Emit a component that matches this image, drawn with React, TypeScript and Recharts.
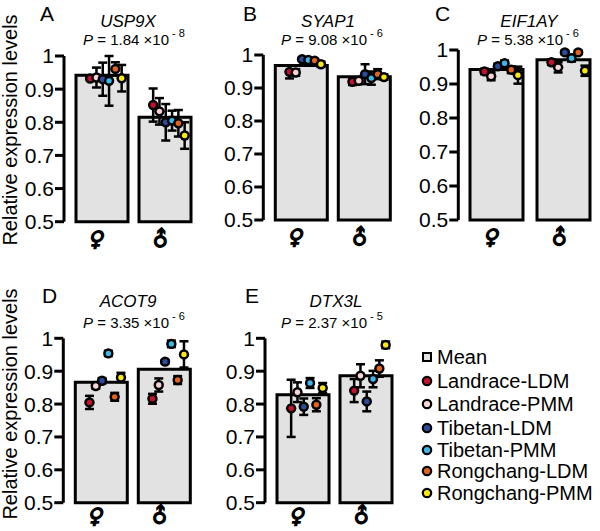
import React from 'react';
import { ComposedChart, Bar, Scatter, XAxis, YAxis, ErrorBar } from 'recharts';

// ---------- data ----------
const sexes = ['♀', '♂'];
const populations = ['Landrace-LDM', 'Landrace-PMM', 'Tibetan-LDM', 'Tibetan-PMM', 'Rongchang-LDM', 'Rongchang-PMM'];
const panelLetters = ['A', 'B', 'C', 'D', 'E'];
const genes = ['USP9X', 'SYAP1', 'EIF1AY', 'ACOT9', 'DTX3L'];
const pMantissa = ['1.84', '9.08', '5.38', '3.35', '2.37'];
const pExponent = ['-8', '-6', '-6', '-6', '-5'];
const yTicks = [0.5, 0.6, 0.7, 0.8, 0.9, 1];

const meanFemale = [0.942, 0.968, 0.943, 0.866, 0.828];
const meanMale = [0.815, 0.934, 0.971, 0.906, 0.886];

// per gene, per population (order of `populations`)
const femaleValues = [
  [0.932, 0.935, 0.930, 0.925, 0.961, 0.933],
  [0.949, 0.947, 0.987, 0.985, 0.983, 0.972],
  [0.937, 0.923, 0.952, 0.961, 0.942, 0.926],
  [0.805, 0.855, 0.871, 0.954, 0.822, 0.881],
  [0.787, 0.836, 0.792, 0.864, 0.798, 0.849],
];
const femaleErrors = [
  [0.005, 0.030, 0.050, 0.075, 0.020, 0.040],
  [0.020, 0.010, 0.005, 0.005, 0.005, 0.008],
  [0.008, 0.012, 0.008, 0.008, 0.010, 0.025],
  [0.020, 0.008, 0.008, 0.008, 0.012, 0.014],
  [0.087, 0.030, 0.025, 0.015, 0.020, 0.015],
];
const maleValues = [
  [0.852, 0.833, 0.800, 0.805, 0.797, 0.760],
  [0.919, 0.922, 0.942, 0.930, 0.942, 0.933],
  [0.964, 0.949, 0.993, 0.976, 0.993, 0.939],
  [0.816, 0.858, 0.929, 0.983, 0.873, 0.951],
  [0.841, 0.886, 0.808, 0.876, 0.908, 0.980],
];
const maleErrors = [
  [0.050, 0.040, 0.055, 0.030, 0.040, 0.040],
  [0.010, 0.010, 0.030, 0.020, 0.015, 0.008],
  [0.008, 0.015, 0.005, 0.010, 0.005, 0.015],
  [0.015, 0.020, 0.005, 0.010, 0.012, 0.040],
  [0.035, 0.035, 0.030, 0.025, 0.025, 0.010],
];

// ---------- styles / layout ----------
const popColors = ['#c8102e', '#f7d3d3', '#2c4b9c', '#3db6ea', '#e4641b', '#fbe80f'];
const popOffsets = [-0.18, -0.08, 0.02, 0.12, 0.22, 0.32];
const FONT = '"Liberation Sans", Arial, Helvetica, sans-serif';

const layouts = [
  { left: 0, top: 0, width: 200, height: 260, axisX: 64, yTop: 56, yBottom: 221.7, band: 63, pad: 6, barSize: 52, symDy: 9 },
  { left: 200, top: 0, width: 200, height: 260, axisX: 63.3, yTop: 55, yBottom: 220, band: 63, pad: 6, barSize: 52, symDy: 9 },
  { left: 395, top: 0, width: 205, height: 260, axisX: 63.3, yTop: 50, yBottom: 220, band: 67, pad: 4.7, barSize: 53, symDy: 9 },
  { left: 0, top: 260, width: 200, height: 271, axisX: 63.3, yTop: 78.3, yBottom: 242.7, band: 63, pad: 6, barSize: 52, symDy: 4.5 },
  { left: 200, top: 260, width: 200, height: 271, axisX: 65, yTop: 78.3, yBottom: 242.7, band: 63, pad: 6, barSize: 52, symDy: 4.5 },
];
const titleLayout = [
  { lx: 40, ly: 21, gx: 128, gy: 27, px: 134, py: 45 },
  { lx: 243, ly: 21, gx: 328, gy: 27, px: 332, py: 45 },
  { lx: 435, ly: 21, gx: 529, gy: 27, px: 528, py: 45 },
  { lx: 42, ly: 303, gx: 128, gy: 307, px: 134, py: 328 },
  { lx: 245, ly: 303, gx: 336, gy: 307, px: 332, py: 328 },
];
const legendYs = [357, 381, 404, 428, 450, 471, 493];
const Y_AXIS_W = 60;
const X_AXIS_H = 22;

const makeSexTick = (symDy: number) => (props: any) => {
  const { x, y, payload } = props;
  const male = payload.value === '♂';
  const cx = x - 4;
  const cy = y + symDy;
  return (
    <text
      x={cx}
      y={cy}
      dy="0.35em"
      textAnchor="middle"
      fontSize={21}
      fontWeight="bold"
      fontStyle="italic"
      fontFamily='"DejaVu Sans", sans-serif'
      fill="#000"
      stroke="#000"
      strokeWidth={1.3}
      transform={male ? `rotate(-40 ${cx} ${cy})` : `skewX(-12) translate(${cy * 0.21} 0)`}
    >
      {payload.value}
    </text>
  );
};

const Dot = (color: string) => (props: any) => {
  const { cx, cy } = props;
  return (
    <g>
      <circle cx={cx} cy={cy} r={5.2} fill="#000" />
      <circle cx={cx} cy={cy} r={2.7} fill={color} />
    </g>
  );
};

const Panel = ({ idx }: { idx: number }) => {
  const L = layouts[idx];
  const plotW = L.pad + 2 * L.band;
  const marginRight = L.width - L.axisX - plotW;
  const marginBottom = L.height - L.yBottom - X_AXIS_H;
  const barData = sexes.map((s, i) => ({ sex: s, mean: i === 0 ? meanFemale[idx] : meanMale[idx] }));
  const SexTick = makeSexTick(L.symDy);
  return (
    <div style={{ position: 'absolute', left: L.left, top: L.top }}>
      <ComposedChart
        width={L.width}
        height={L.height}
        data={barData}
        margin={{ top: L.yTop, right: marginRight, bottom: marginBottom, left: L.axisX - Y_AXIS_W }}
      >
        <XAxis
          xAxisId="cat"
          dataKey="sex"
          type="category"
          padding={{ left: L.pad, right: 0 }}
          axisLine={false}
          tickLine={false}
          tick={<SexTick />}
          height={X_AXIS_H}
          interval={0}
        />
        <XAxis xAxisId="num" type="number" dataKey="x" domain={[0, 2]} hide padding={{ left: L.pad, right: 0 }} />
        <YAxis
          domain={[0.5, 1]}
          ticks={yTicks}
          interval={0}
          width={Y_AXIS_W}
          axisLine={{ stroke: '#000', strokeWidth: 3 }}
          tickLine={{ stroke: '#000', strokeWidth: 3 }}
          tickSize={9}
          tickMargin={1}
          tick={{ fill: '#000', fontSize: 21, fontFamily: FONT }}
        />
        <Bar
          xAxisId="cat"
          dataKey="mean"
          fill="#e2e2e2"
          stroke="#000"
          strokeWidth={3}
          barSize={L.barSize}
          isAnimationActive={false}
        />
        {populations.map((p, i) => (
          <Scatter
            key={p}
            name={p}
            xAxisId="num"
            dataKey="y"
            data={[
              { x: 0.5 + popOffsets[i], y: femaleValues[idx][i], err: femaleErrors[idx][i] },
              { x: 1.5 + popOffsets[i], y: maleValues[idx][i], err: maleErrors[idx][i] },
            ]}
            shape={Dot(popColors[i])}
            isAnimationActive={false}
          >
            <ErrorBar dataKey="err" direction="y" width={4.5} stroke="#000" strokeWidth={2.5} />
          </Scatter>
        ))}
      </ComposedChart>
    </div>
  );
};

export default function App() {
  return (
    <div style={{ position: 'absolute', left: 0, top: 0, width: 600, height: 531, background: '#fff', overflow: 'hidden' }}>
      {layouts.map((_, i) => (
        <Panel key={i} idx={i} />
      ))}
      <svg width={600} height={531} style={{ position: 'absolute', left: 0, top: 0, pointerEvents: 'none' }} fontFamily={FONT}>
        {/* y labels */}
        <text transform="translate(17,130) rotate(-90)" textAnchor="middle" fontSize={20} fill="#000">
          Relative expression levels
        </text>
        <text transform="translate(17,404) rotate(-90)" textAnchor="middle" fontSize={20} fill="#000">
          Relative expression levels
        </text>
        {titleLayout.map((t, i) => (
          <g key={i}>
            <text x={t.lx} y={t.ly} fontSize={21} fill="#000">{panelLetters[i]}</text>
            <text x={t.gx} y={t.gy} fontSize={17} fontStyle="italic" textAnchor="middle" fill="#000">{genes[i]}</text>
            <text x={t.px} y={t.py} fontSize={15} textAnchor="middle" fill="#000">
              <tspan fontStyle="italic">P</tspan>
              <tspan>{` = ${pMantissa[i]} ×10`}</tspan>
              <tspan fontSize={11} dy={-8}>{` ${pExponent[i].replace('-', '- ')}`}</tspan>
            </text>
          </g>
        ))}
        {/* legend */}
        <g>
          <rect x={423} y={legendYs[0] - 4} width={8} height={8} fill="#e2e2e2" stroke="#000" strokeWidth={2} />
          <text x={437} y={legendYs[0]} dy="0.35em" fontSize={20} fill="#000">Mean</text>
          {populations.map((p, i) => (
            <g key={p}>
              <circle cx={427} cy={legendYs[i + 1]} r={4.2} fill={popColors[i]} stroke="#000" strokeWidth={2.2} />
              <text x={437} y={legendYs[i + 1]} dy="0.35em" fontSize={20} fill="#000">{p}</text>
            </g>
          ))}
        </g>
      </svg>
    </div>
  );
}
